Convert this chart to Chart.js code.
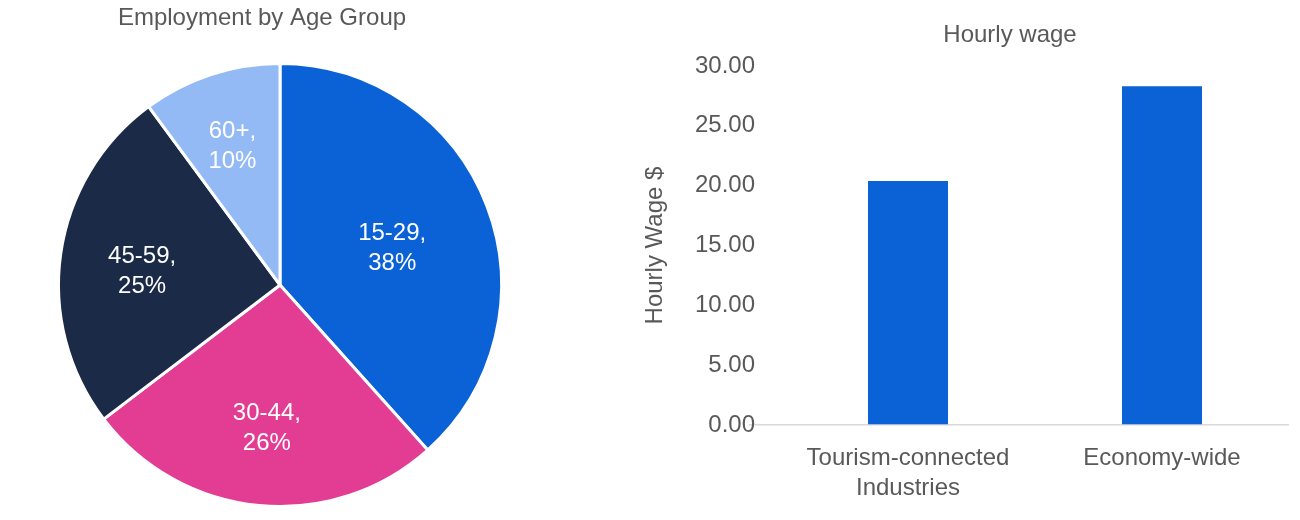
<!DOCTYPE html>
<html>
<head>
<meta charset="utf-8">
<script src="https://cdn.jsdelivr.net/npm/chart.js@4.4.1/dist/chart.umd.min.js"></script>
<style>
  html, body { margin: 0; padding: 0; background: #fff; overflow: hidden; }
  .box { position: absolute; top: 0; height: 520px; }
  #left { left: 0; width: 560px; }
  #right { left: 620px; width: 680px; }
</style>
</head>
<body>
<div class="box" id="left"><canvas id="pie"></canvas></div>
<div class="box" id="right"><canvas id="bar"></canvas></div>
<script>
const AGE_GROUPS = ['15-29', '30-44', '45-59', '60+']
const AGE_SHARES = [38, 26, 25, 10]
const AGE_COLORS = ['#0b61d6', '#e23c93', '#1b2a47', '#93baf5']

const WAGE_CATEGORIES = [['Tourism-connected', 'Industries'], 'Economy-wide']
const WAGE_VALUES = [20.4, 28.3]
const WAGE_MAX = 30
const WAGE_STEP = 5

const FONT = '"Liberation Sans", Arial, sans-serif'
const GREY = '#595959'

Chart.defaults.font.family = FONT
Chart.defaults.font.size = 24
Chart.defaults.color = GREY

// title drawn at a fixed spot (Excel centres it over the whole chart object)
const titleAt = {
  id: 'titleAt',
  afterDraw(chart, args, opts) {
    const ctx = chart.ctx
    ctx.save()
    ctx.font = `24px ${FONT}`
    ctx.fillStyle = GREY
    ctx.textAlign = 'center'
    ctx.textBaseline = 'middle'
    ctx.fillText(opts.text, opts.x, opts.y)
    ctx.restore()
  }
}

// "group,\nshare%" labels near each slice centroid
const sliceLabels = {
  id: 'sliceLabels',
  afterDatasetsDraw(chart) {
    const ctx = chart.ctx
    const meta = chart.getDatasetMeta(0)
    ctx.save()
    ctx.font = `24px ${FONT}`
    ctx.fillStyle = '#ffffff'
    ctx.textAlign = 'center'
    ctx.textBaseline = 'middle'
    meta.data.forEach((arc, i) => {
      const p = arc.getProps(['x', 'y', 'startAngle', 'endAngle', 'outerRadius'], true)
      const theta = p.endAngle - p.startAngle
      const mid = p.startAngle + theta / 2
      const d = 1.05 * 4 * p.outerRadius * Math.sin(theta / 2) / (3 * theta)
      const cx = p.x + Math.cos(mid) * d
      const cy = p.y + Math.sin(mid) * d + 6
      ctx.fillText(AGE_GROUPS[i] + ',', cx, cy - 15)
      ctx.fillText(AGE_SHARES[i] + '%', cx, cy + 15)
    })
    ctx.restore()
  }
}

new Chart(document.getElementById('pie'), {
  type: 'pie',
  data: {
    labels: AGE_GROUPS,
    datasets: [{
      data: AGE_SHARES,
      backgroundColor: AGE_COLORS,
      borderColor: '#ffffff',
      borderWidth: 3
    }]
  },
  options: {
    responsive: true, maintainAspectRatio: false, animation: false,
    layout: { padding: { top: 62, bottom: 12 } },
    plugins: {
      legend: { display: false },
      tooltip: { enabled: false },
      titleAt: { text: 'Employment by Age Group', x: 262, y: 18 }
    }
  },
  plugins: [sliceLabels, titleAt]
})

new Chart(document.getElementById('bar'), {
  type: 'bar',
  data: {
    labels: WAGE_CATEGORIES,
    datasets: [{
      data: WAGE_VALUES,
      backgroundColor: '#0b61d6',
      barPercentage: 0.315,
      categoryPercentage: 1
    }]
  },
  options: {
    responsive: true, maintainAspectRatio: false, animation: false,
    layout: { padding: { top: 66, bottom: 7, left: 0, right: 11 } },
    plugins: {
      legend: { display: false },
      tooltip: { enabled: false },
      titleAt: { text: 'Hourly wage', x: 390, y: 35 }
    },
    scales: {
      x: {
        grid: { display: false },
        border: { display: false },
        ticks: { padding: 10, maxRotation: 0, font: { size: 24, lineHeight: 1.25 } }
      },
      y: {
        min: 0, max: WAGE_MAX,
        border: { display: false },
        grid: {
          drawTicks: true, tickLength: 32, lineWidth: 1.5,
          color: c => (c.tick && c.tick.value === 0) ? '#d9d9d9' : 'rgba(0,0,0,0)'
        },
        ticks: { stepSize: WAGE_STEP, padding: -6, callback: v => Number(v).toFixed(2) },
        title: { display: true, text: 'Hourly Wage $', padding: { top: 20.6, bottom: 0 }, font: { size: 24 } },
        afterFit: s => { s.width = 161 }
      }
    }
  },
  plugins: [titleAt]
})
</script>
</body>
</html>
